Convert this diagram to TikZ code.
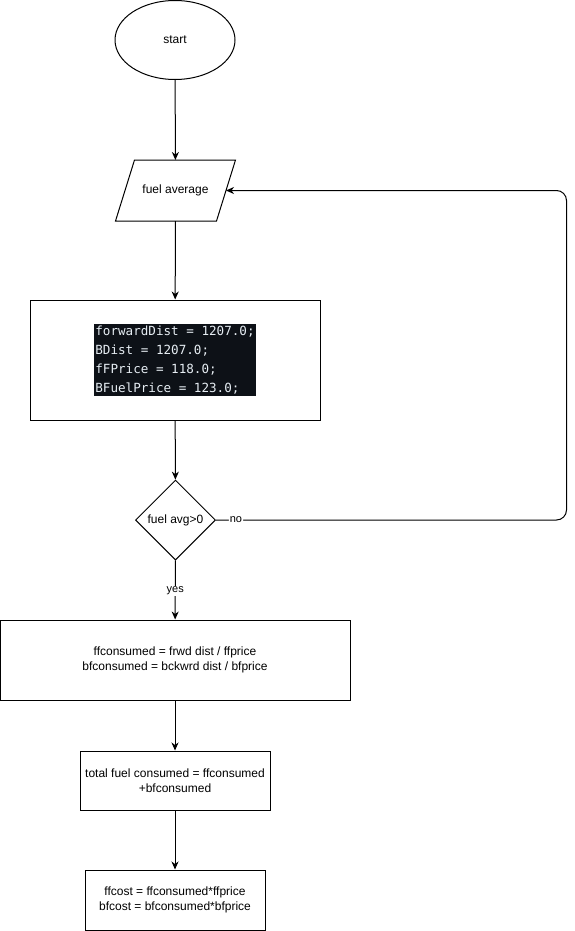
\documentclass[tikz,border=0pt]{standalone}
\usepackage{fontspec}
\setmainfont{Liberation Sans}
\newfontfamily\codefont{DejaVu Sans Mono}
\usepackage{tikz}
\usetikzlibrary{shapes.geometric,arrows.meta}
\definecolor{codebg}{RGB}{13,17,23}
\definecolor{codefg}{RGB}{230,237,243}

\begin{document}
\begin{tikzpicture}[x=1pt,y=-1pt,line width=1pt,
	font=\fontsize{12}{14.5}\selectfont,
	box/.style={draw,rectangle,inner sep=0pt,align=center},
	arr/.style={-{Stealth[length=8pt,width=7pt,inset=2.5pt]}},
	lbl/.style={fill=white,inner sep=1pt,font=\fontsize{11}{13}\selectfont}]
			\useasboundingbox (0,0) rectangle (574,931);
			\coordinate (c_start) at (175,40);
			\coordinate (c_input) at (175.5,190.5);
			\coordinate (c_vars) at (175,360);
			\coordinate (c_dec) at (175.5,520);
			\coordinate (c_cons) at (175,660);
			\coordinate (c_total) at (175,780.5);
			\coordinate (c_cost) at (175,900);
			\coordinate (loop_lower) at (566.5,520);
			\coordinate (loop_upper) at (566.5,190.5);
	
			\node[draw,ellipse,minimum width=120pt,minimum height=79pt,inner sep=0pt] (start) at (c_start) {start};
			\node[rectangle,minimum width=100pt,minimum height=60pt,inner sep=0pt] (input) at (c_input) {fuel average};
			\draw ([xshift=9.5pt]input.north west) -- ([xshift=9.5pt]input.north east) -- ([xshift=-9.5pt]input.south east) -- ([xshift=-9.5pt]input.south west) -- cycle;
			\node[box,minimum width=290pt,minimum height=120pt] (vars) at (c_vars) {};
			\node[fill=codebg,text=codefg,align=left,inner xsep=1pt,inner ysep=2pt,font=\codefont\fontsize{12.6}{19}\selectfont] (code) at (c_vars)
				{forwardDist = 1207.0;\\BDist = 1207.0;\\fFPrice = 118.0;\\BFuelPrice = 123.0;};
			\node[draw,diamond,aspect=1,minimum width=80pt,minimum height=80pt,inner sep=0pt] (dec) at (c_dec) {fuel avg>0};
			\node[box,minimum width=350pt,minimum height=80pt] (cons) at (c_cons) {ffconsumed = frwd dist / ffprice\\bfconsumed = bckwrd dist / bfprice};
			\node[box,minimum width=190pt,minimum height=59pt] (total) at (c_total) {total fuel consumed = ffconsumed\\+bfconsumed};
			\node[box,minimum width=180pt,minimum height=60pt] (cost) at (c_cost) {ffcost = ffconsumed*ffprice\\bfcost = bfconsumed*bfprice};
			
			\draw[arr] (start) -- (input);
			\draw[arr] (input) -- (vars);
			\draw[arr] (vars) -- (dec);
			\draw[arr] (dec) -- node[lbl,pos=0.52]{yes} (cons);
			\draw[arr] (cons) -- (total);
			\draw[arr] (total) -- (cost);
			\draw[arr,rounded corners=10pt] (dec.east) -- node[lbl,pos=0.057]{no} (loop_lower) -- (loop_upper) -- (input.east);
		\end{tikzpicture}
\end{document}
